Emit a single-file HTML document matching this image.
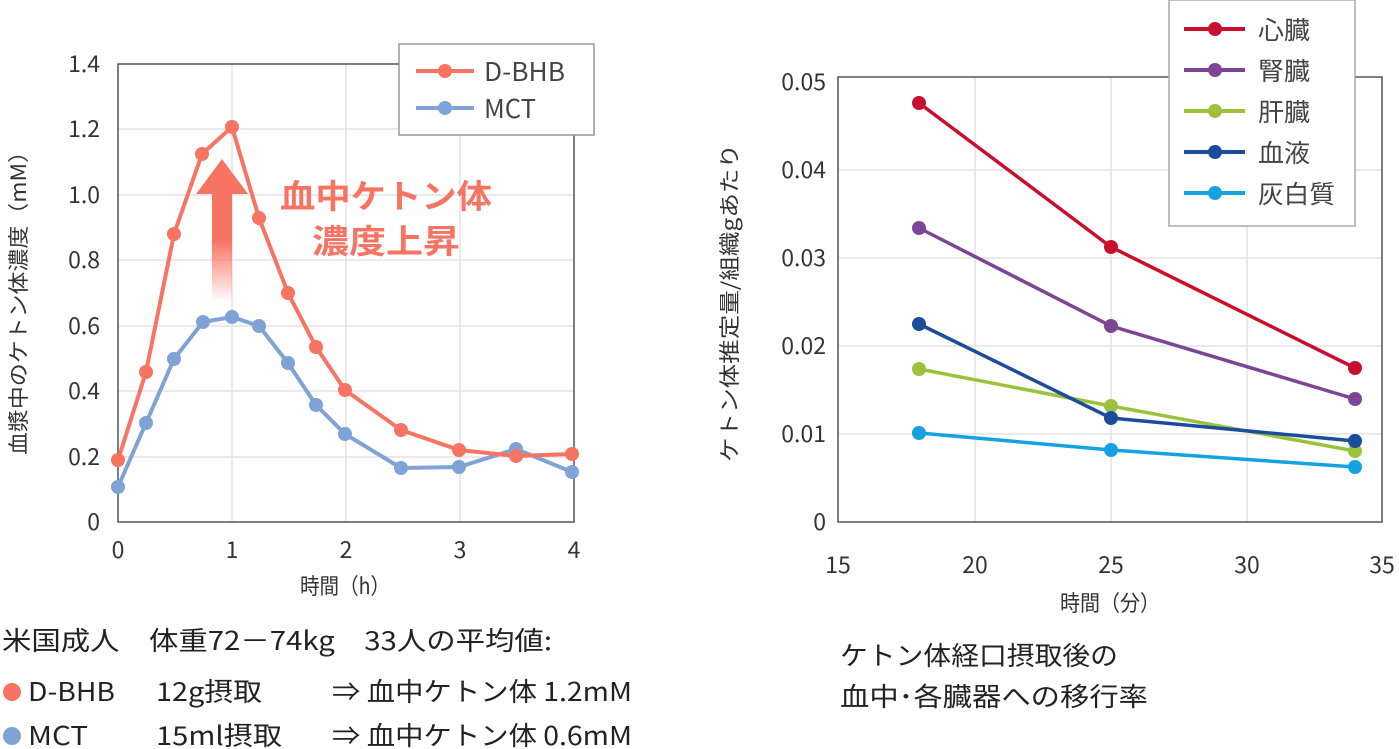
<!DOCTYPE html>
<html><head><meta charset="utf-8"><style>
body{margin:0;background:#fff;}
svg{display:block;font-family:"Noto Sans CJK JP","Liberation Sans",sans-serif;}
</style></head><body>
<svg width="1399" height="749" viewBox="0 0 1399 749">
<defs>
<linearGradient id="ag" x1="0" y1="0" x2="0" y2="1">
<stop offset="0" stop-color="#f87462"/><stop offset="0.45" stop-color="#f87462"/><stop offset="1" stop-color="#f87462" stop-opacity="0"/>
</linearGradient>
</defs>
<!-- LEFT CHART -->
<g stroke="#e3e3e3" stroke-width="1.5">
<line x1="118" y1="129" x2="574" y2="129"/><line x1="118" y1="195" x2="574" y2="195"/>
<line x1="118" y1="260" x2="574" y2="260"/><line x1="118" y1="326" x2="574" y2="326"/>
<line x1="118" y1="391" x2="574" y2="391"/><line x1="118" y1="457" x2="574" y2="457"/>
<line x1="232" y1="64" x2="232" y2="522"/><line x1="346" y1="64" x2="346" y2="522"/><line x1="460" y1="64" x2="460" y2="522"/>
</g>
<rect x="118" y="64" width="456" height="458" fill="none" stroke="#555" stroke-width="1.5"/>
<g font-size="23" fill="#333" text-anchor="end">
<text x="100" y="530">0</text><text x="100" y="465">0.2</text><text x="100" y="399">0.4</text>
<text x="100" y="334">0.6</text><text x="100" y="268">0.8</text><text x="100" y="203">1.0</text>
<text x="100" y="137">1.2</text><text x="100" y="72">1.4</text>
</g>
<g font-size="23" fill="#333" text-anchor="middle">
<text x="118" y="558">0</text><text x="232" y="558">1</text><text x="346" y="558">2</text><text x="460" y="558">3</text><text x="574" y="558">4</text>
</g>
<text x="300" y="594" font-size="22" fill="#333" textLength="90" lengthAdjust="spacingAndGlyphs">時間（h）</text>
<text transform="translate(26,455) rotate(-90)" font-size="21" fill="#333" textLength="315" lengthAdjust="spacingAndGlyphs">血漿中のケトン体濃度（mM）</text>
<!-- arrow -->
<rect x="212" y="190" width="20" height="112" fill="url(#ag)"/>
<polygon points="222,159 196,194 248,194" fill="#f87462"/>
<g font-size="33" font-weight="bold" fill="#f87462">
<text x="280" y="208" textLength="212" lengthAdjust="spacingAndGlyphs">血中ケトン体</text>
<text x="312" y="253" textLength="148" lengthAdjust="spacingAndGlyphs">濃度上昇</text>
</g>
<polyline fill="none" stroke="#7fa3d6" stroke-width="4" points="118,487 146,423 174,359 203,322 232,317 259,326 288,363 316,405 345,434 401,468 459,467 516,449 572,472"/>
<g fill="#7fa3d6">
<circle cx="118" cy="487" r="7"/><circle cx="146" cy="423" r="7"/><circle cx="174" cy="359" r="7"/><circle cx="203" cy="322" r="7"/><circle cx="232" cy="317" r="7"/><circle cx="259" cy="326" r="7"/><circle cx="288" cy="363" r="7"/><circle cx="316" cy="405" r="7"/><circle cx="345" cy="434" r="7"/><circle cx="401" cy="468" r="7"/><circle cx="459" cy="467" r="7"/><circle cx="516" cy="449" r="7"/><circle cx="572" cy="472" r="7"/>
</g>
<polyline fill="none" stroke="#f87462" stroke-width="4" points="118,460 146,372 174,234 202,154 232,127 259,218 288,293 316,347 345,390 401,430 459,450 516,456 572,454"/>
<g fill="#f87462">
<circle cx="118" cy="460" r="7"/><circle cx="146" cy="372" r="7"/><circle cx="174" cy="234" r="7"/><circle cx="202" cy="154" r="7"/><circle cx="232" cy="127" r="7"/><circle cx="259" cy="218" r="7"/><circle cx="288" cy="293" r="7"/><circle cx="316" cy="347" r="7"/><circle cx="345" cy="390" r="7"/><circle cx="401" cy="430" r="7"/><circle cx="459" cy="450" r="7"/><circle cx="516" cy="456" r="7"/><circle cx="572" cy="454" r="7"/>
</g>
<rect x="399" y="44" width="195" height="91" fill="#fff" stroke="#999" stroke-width="1.5"/>
<line x1="416" y1="71" x2="474" y2="71" stroke="#f87462" stroke-width="4"/><circle cx="445" cy="71" r="7" fill="#f87462"/>
<line x1="416" y1="108" x2="474" y2="108" stroke="#7fa3d6" stroke-width="4"/><circle cx="445" cy="108" r="7" fill="#7fa3d6"/>
<text x="484" y="81" font-size="26" fill="#444" textLength="81" lengthAdjust="spacingAndGlyphs">D-BHB</text>
<text x="484" y="118" font-size="26" fill="#444" textLength="52" lengthAdjust="spacingAndGlyphs">MCT</text>
<!-- bottom text left -->
<g font-size="26" fill="#222">
<text x="2" y="650" textLength="550" lengthAdjust="spacingAndGlyphs">米国成人　体重72－74kg　33人の平均値:</text>
<text x="28" y="701" textLength="87" lengthAdjust="spacingAndGlyphs">D-BHB</text>
<text x="156" y="701" textLength="106" lengthAdjust="spacingAndGlyphs">12g摂取</text>
<text x="332" y="701" textLength="300" lengthAdjust="spacingAndGlyphs">⇒ 血中ケトン体 1.2mM</text>
<text x="28" y="745" textLength="60" lengthAdjust="spacingAndGlyphs">MCT</text>
<text x="156" y="745" textLength="126" lengthAdjust="spacingAndGlyphs">15ml摂取</text>
<text x="332" y="745" textLength="300" lengthAdjust="spacingAndGlyphs">⇒ 血中ケトン体 0.6mM</text>
</g>
<circle cx="12" cy="692" r="9" fill="#f87462"/>
<circle cx="12" cy="736" r="9" fill="#7fa3d6"/>
<!-- RIGHT CHART -->
<g stroke="#e3e3e3" stroke-width="1.5">
<line x1="838" y1="434" x2="1382" y2="434"/><line x1="838" y1="346" x2="1382" y2="346"/>
<line x1="838" y1="258" x2="1382" y2="258"/><line x1="838" y1="170" x2="1382" y2="170"/>
<line x1="975" y1="77" x2="975" y2="522"/><line x1="1111" y1="77" x2="1111" y2="522"/><line x1="1247" y1="77" x2="1247" y2="522"/>
</g>
<rect x="838" y="77" width="544" height="445" fill="none" stroke="#555" stroke-width="1.5"/>
<g font-size="23" fill="#333" text-anchor="end">
<text x="826" y="530">0</text><text x="826" y="442">0.01</text><text x="826" y="354">0.02</text>
<text x="826" y="266">0.03</text><text x="826" y="178">0.04</text><text x="826" y="90">0.05</text>
</g>
<g font-size="23" fill="#333" text-anchor="middle">
<text x="838" y="573">15</text><text x="975" y="573">20</text><text x="1111" y="573">25</text><text x="1247" y="573">30</text><text x="1382" y="573">35</text>
</g>
<text x="1060" y="611" font-size="22" fill="#333" textLength="100" lengthAdjust="spacingAndGlyphs">時間（分）</text>
<text transform="translate(737,462) rotate(-90)" font-size="21" fill="#333" textLength="318" lengthAdjust="spacingAndGlyphs">ケトン体推定量/組織gあたり</text>
<g stroke-width="3.5" fill="none">
<polyline stroke="#13a3e0" points="919,433 1111,450 1355,467"/>
<polyline stroke="#9cc23c" points="919,369 1111,406 1355,451"/>
<polyline stroke="#1c4c9c" points="919,324 1111,418 1355,441"/>
<polyline stroke="#7d4596" points="919,228 1111,326 1355,399"/>
<polyline stroke="#c8102e" points="919,103 1111,247 1355,368"/>
</g>
<g fill="#13a3e0"><circle cx="919" cy="433" r="7"/><circle cx="1111" cy="450" r="7"/><circle cx="1355" cy="467" r="7"/></g>
<g fill="#9cc23c"><circle cx="919" cy="369" r="7"/><circle cx="1111" cy="406" r="7"/><circle cx="1355" cy="451" r="7"/></g>
<g fill="#1c4c9c"><circle cx="919" cy="324" r="7"/><circle cx="1111" cy="418" r="7"/><circle cx="1355" cy="441" r="7"/></g>
<g fill="#7d4596"><circle cx="919" cy="228" r="7"/><circle cx="1111" cy="326" r="7"/><circle cx="1355" cy="399" r="7"/></g>
<g fill="#c8102e"><circle cx="919" cy="103" r="7"/><circle cx="1111" cy="247" r="7"/><circle cx="1355" cy="368" r="7"/></g>
<rect x="1169" y="0" width="186" height="226" fill="#fff" stroke="#aaa" stroke-width="1.5"/>
<g stroke-width="4">
<line x1="1184" y1="29" x2="1245" y2="29" stroke="#c8102e"/>
<line x1="1184" y1="70" x2="1245" y2="70" stroke="#7d4596"/>
<line x1="1184" y1="111" x2="1245" y2="111" stroke="#9cc23c"/>
<line x1="1184" y1="152" x2="1245" y2="152" stroke="#1c4c9c"/>
<line x1="1184" y1="193" x2="1245" y2="193" stroke="#13a3e0"/>
</g>
<circle cx="1215" cy="29" r="7" fill="#c8102e"/><circle cx="1215" cy="70" r="7" fill="#7d4596"/>
<circle cx="1215" cy="111" r="7" fill="#9cc23c"/><circle cx="1215" cy="152" r="7" fill="#1c4c9c"/>
<circle cx="1215" cy="193" r="7" fill="#13a3e0"/>
<g font-size="25" fill="#444">
<text x="1258" y="39" textLength="52" lengthAdjust="spacingAndGlyphs">心臓</text>
<text x="1258" y="80" textLength="52" lengthAdjust="spacingAndGlyphs">腎臓</text>
<text x="1258" y="121" textLength="52" lengthAdjust="spacingAndGlyphs">肝臓</text>
<text x="1258" y="162" textLength="52" lengthAdjust="spacingAndGlyphs">血液</text>
<text x="1258" y="203" textLength="77" lengthAdjust="spacingAndGlyphs">灰白質</text>
</g>
<g font-size="26" fill="#222">
<text x="840" y="665" textLength="278" lengthAdjust="spacingAndGlyphs">ケトン体経口摂取後の</text>
<text x="840" y="706" textLength="308" lengthAdjust="spacingAndGlyphs">血中･各臓器への移行率</text>
</g>
</svg>
</body></html>
